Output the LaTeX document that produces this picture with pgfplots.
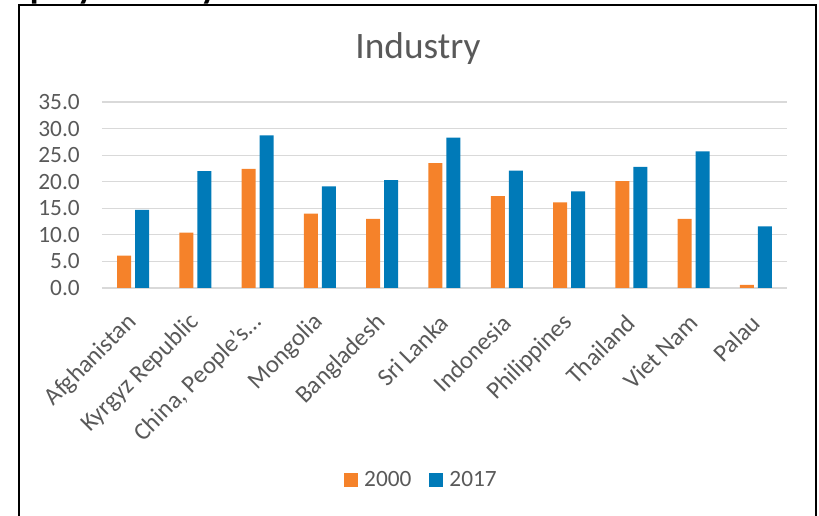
\documentclass[border=0pt]{standalone}
\usepackage{fontspec}
\setmainfont{Carlito}
\usepackage{pgfplots}
\usepackage{pgfplotstable}
\pgfplotsset{compat=1.18}

\definecolor{barorange}{HTML}{F5822A}
\definecolor{barblue}{HTML}{007AB8}
\definecolor{txtgray}{HTML}{595959}
\definecolor{gridgray}{HTML}{D9D9D9}

% share of employment in industry, %
\pgfplotstableread{
idx y2000 y2017
0   6.1   14.7
1   10.4  22.0
2   22.4  28.7
3   14.0  19.1
4   13.0  20.3
5   23.5  28.3
6   17.3  22.1
7   16.1  18.2
8   20.1  22.8
9   13.0  25.7
10  0.6   11.6
}\industry

\begin{document}
\begin{tikzpicture}
% page = 819 x 516 px, 1px = 0.75pt
\path[use as bounding box, clip] (0pt,0pt) rectangle (614.25pt,-387pt);

% cut-off heading above the frame
\node[anchor=base west, inner sep=0pt, font=\fontsize{27}{30}\selectfont\bfseries]
  at (-13pt,0.9pt) {Employment by sector};

% frame
\draw[black, line width=1.5pt] (14.6pt,-390pt) -- (14.6pt,-3.4pt) -- (612pt,-3.4pt) -- (612pt,-390pt);

% title
\node[anchor=base, inner sep=0pt, text=txtgray, font=\fontsize{28}{32}\selectfont]
  at (313.5pt,-44.25pt) {Industry};

\begin{axis}[
    at={(76.5pt,-216pt)}, anchor=south west,
    scale only axis, width=513.75pt, height=139.5pt,
    xmin=-0.5, xmax=10.5, ymin=0, ymax=35,
    ybar=3pt, bar width=10.5pt,
    xtick={0,...,10},
    xticklabels={Afghanistan, Kyrgyz Republic, {China, People's…}, Mongolia, Bangladesh,
                 Sri Lanka, Indonesia, Philippines, Thailand, Viet Nam, Palau},
    ytick={0,5,...,35},
    /pgf/number format/fixed, /pgf/number format/fixed zerofill,
    /pgf/number format/precision=1, /pgf/number format/assume math mode=true,
    axis line style={draw=none}, major tick length=0pt,
    ymajorgrids, grid style={gridgray, line width=0.9pt},
    tick label style={font=\fontsize{17.5}{20}\selectfont, text=txtgray},
    yticklabel style={inner sep=0pt}, yticklabel shift=16.5pt,
    xticklabel style={rotate=45, anchor=east, inner sep=0pt, font=\fontsize{18.5}{21}\selectfont},
    xticklabel shift=23pt,
    legend columns=2,
    legend style={at={(0.4664,-1.032)}, anchor=center, draw=none, fill=none,
                  font=\fontsize{17.5}{20}\selectfont, text=txtgray,
                  /tikz/every odd column/.append style={column sep=3pt},
                  /tikz/every even column/.append style={column sep=11pt}},
    legend image code/.code={\fill[#1,draw=none] (0pt,-5.25pt) rectangle (10.5pt,5.25pt);},
]
\addplot[fill=barorange, draw=none] table[x=idx, y=y2000] {\industry};
\addplot[fill=barblue, draw=none] table[x=idx, y=y2017] {\industry};
\legend{2000, 2017}
\end{axis}
\end{tikzpicture}
\end{document}
